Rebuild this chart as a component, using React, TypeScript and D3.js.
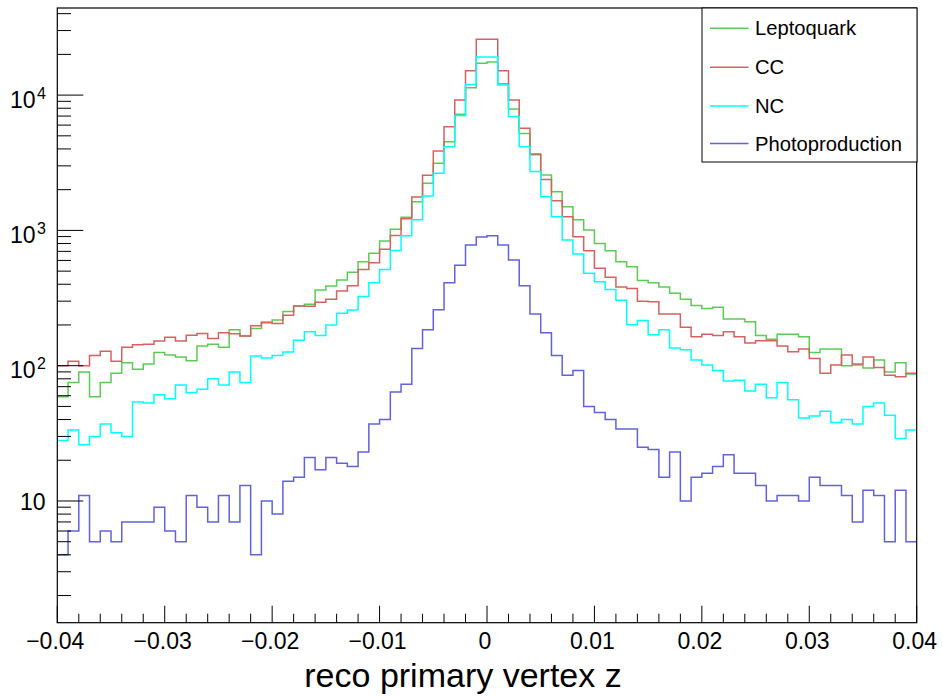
import React from "react";
import * as d3 from "d3";

// ---- data (80 bins from -0.04 to 0.04) ----
const xMin = -0.04;
const xMax = 0.04;
const nBins = 80;

const leptoquark = [
  59, 75, 90, 59, 75, 88, 105, 94, 103, 125, 120, 116, 109, 140, 144, 137, 184, 166, 188, 210,
  218, 251, 276, 284, 362, 388, 430, 490, 587, 677, 834, 1019, 1250, 1630, 2228, 3130, 4530, 7210, 11350, 17200,
  17600, 12150, 7880, 5200, 3630, 2566, 1932, 1497, 1200, 1007, 800, 708, 587, 539, 427, 410, 382, 343, 310, 278,
  265, 270, 221, 221, 211, 167, 157, 171, 171, 164, 125, 133, 133, 100, 101, 96, 110, 90, 105, 87,
];

const cc = [
  100, 108, 100, 119, 128, 108, 137, 143, 144, 152, 162, 152, 168, 173, 159, 175, 172, 166, 197, 208,
  205, 236, 276, 275, 295, 310, 357, 390, 515, 577, 725, 915, 1220, 1765, 2560, 3870, 5840, 9200, 15150, 25850,
  25850, 15150, 9200, 5680, 3670, 2383, 1658, 1262, 898, 708, 525, 450, 382, 372, 299, 297, 241, 241, 192, 164,
  171, 167, 178, 164, 147, 153, 153, 140, 127, 133, 113, 88, 101, 120, 103, 116, 97, 85, 83, 88,
];

const nc = [
  28, 33.5, 26, 30, 37, 32, 30, 54, 53, 61, 57, 72, 63, 67, 80, 72, 90, 75, 118, 114,
  119, 126, 154, 178, 167, 200, 244, 258, 324, 410, 515, 710, 914, 1200, 1795, 2640, 4150, 7060, 12000, 19100,
  19100, 11870, 6950, 4150, 2720, 1774, 1262, 850, 670, 482, 418, 365, 304, 201, 216, 169, 184, 135, 131, 110,
  101, 92, 77, 78, 65, 73, 58, 75, 56, 41, 42.5, 46, 38, 40, 37, 50, 53, 43, 29, 33.5,
];

const photoproduction = [
  4, 6, 11, 5, 6, 5, 7, 7, 7, 9, 6, 5, 11, 9, 7, 11, 7, 13, 4, 10,
  8, 14, 15, 21, 17, 21, 19, 18, 23, 37, 40, 64, 73, 134, 184, 259, 410, 552, 780, 893,
  914, 780, 604, 390, 241, 175, 119, 85, 92, 50, 45, 40, 34, 34, 25, 24, 15, 23, 10, 15,
  16, 18, 22, 16, 16, 13, 10, 11, 11, 10, 15, 13, 13, 11, 7, 12, 11, 5, 12, 5,
];

const seriesNames = ["Leptoquark", "CC", "NC", "Photoproduction"];
const seriesColors = ["#5ccb55", "#d86060", "#00ffff", "#6262e0"];
const seriesValues = [leptoquark, cc, nc, photoproduction];

const xTickValues = [-0.04, -0.03, -0.02, -0.01, 0, 0.01, 0.02, 0.03, 0.04];
const xTickLabels = ["\u22120.04", "\u22120.03", "\u22120.02", "\u22120.01", "0", "0.01", "0.02", "0.03", "0.04"];
const yDecades = [1, 2, 3, 4];
const xTitle = "reco primary vertex z";

// ---- layout ----
const W = 943;
const H = 698;
const left = 57.3;
const right = 916.7;
const top = 8;
const bottom = 622.7;
const yMinV = 1.26;
const yMaxV = 44040;
const FONT = "'Liberation Sans', Arial, Helvetica, sans-serif";

export default function App() {
  const x = d3.scaleLinear().domain([xMin, xMax]).range([left, right]);
  const y = d3.scaleLog().domain([yMinV, yMaxV]).range([bottom, top]);
  const binW = (xMax - xMin) / nBins;

  const line = d3
    .line<[number, number]>()
    .x((d) => x(d[0]))
    .y((d) => y(d[1]))
    .curve(d3.curveStepAfter);

  const paths = seriesValues.map((vals) => {
    const pts: [number, number][] = vals.map((v, i) => [xMin + i * binW, v]);
    pts.push([xMax, vals[vals.length - 1]]);
    return line(pts) || "";
  });

  // x minor ticks every 0.002
  const xMinor = d3.range(0, 41).map((i) => xMin + i * 0.002);

  // y minor ticks
  const yMinor: number[] = [];
  for (let e = 0; e <= 4; e++) {
    for (let k = 2; k <= 9; k++) {
      const v = k * Math.pow(10, e);
      if (v >= yMinV && v <= yMaxV) yMinor.push(v);
    }
  }

  const legX0 = 702;
  const legY0 = 8;
  const legW = 215;
  const legH = 154;
  const rowYs = [28.3, 67.3, 106, 143.5];

  return (
    <svg
      width={W}
      height={H}
      style={{ position: "absolute", left: 0, top: 0, background: "#fff" }}
      fontFamily={FONT}
    >
      <rect x={0} y={0} width={W} height={H} fill="#fff" />
      {/* histograms */}
      <g fill="none" strokeWidth={1.5}>
        {paths.map((p, i) => (
          <path key={i} d={p} stroke={seriesColors[i]} />
        ))}
      </g>

      {/* frame */}
      <rect x={left} y={top} width={right - left} height={bottom - top} fill="none" stroke="#000" strokeWidth={1.2} />

      {/* x ticks */}
      <g stroke="#000" strokeWidth={1}>
        {xMinor.map((v, i) => {
          const major = i % 5 === 0;
          return <line key={i} x1={x(v)} x2={x(v)} y1={bottom} y2={bottom - (major ? 17 : 9)} />;
        })}
      </g>
      <g fontSize={23} fill="#000" textAnchor="middle">
        {xTickValues.map((v, i) => (
          <text key={i} x={x(v) - 2} y={649}>
            {xTickLabels[i]}
          </text>
        ))}
      </g>

      {/* y ticks */}
      <g stroke="#000" strokeWidth={1}>
        {yDecades.map((e) => (
          <line key={"M" + e} x1={left} x2={left + 26} y1={y(Math.pow(10, e))} y2={y(Math.pow(10, e))} />
        ))}
        {yMinor.map((v, i) => (
          <line key={"m" + i} x1={left} x2={left + 13.7} y1={y(v)} y2={y(v)} />
        ))}
      </g>
      <g fill="#000">
        {yDecades.map((e) => {
          const ty = y(Math.pow(10, e));
          if (e === 1) {
            return (
              <text key={e} x={45.5} y={ty + 9} fontSize={23} textAnchor="end">
                10
              </text>
            );
          }
          return (
            <g key={e}>
              <text x={35.5} y={ty + 12.5} fontSize={23} textAnchor="end">
                10
              </text>
              <text x={37} y={ty + 3.5} fontSize={16} textAnchor="start">
                {String(e)}
              </text>
            </g>
          );
        })}
      </g>

      {/* x title */}
      <text x={463} y={687} fontSize={34} textAnchor="middle" fill="#000">
        {xTitle}
      </text>

      {/* legend */}
      <rect x={legX0} y={legY0} width={legW} height={legH} fill="#fff" stroke="#000" strokeWidth={1} />
      {seriesNames.map((name, i) => (
        <g key={name}>
          <line x1={710} x2={748.5} y1={rowYs[i]} y2={rowYs[i]} stroke={seriesColors[i]} strokeWidth={1.5} />
          <text x={755} y={rowYs[i] + 7} fontSize={20.2} fill="#000">
            {name}
          </text>
        </g>
      ))}
    </svg>
  );
}
